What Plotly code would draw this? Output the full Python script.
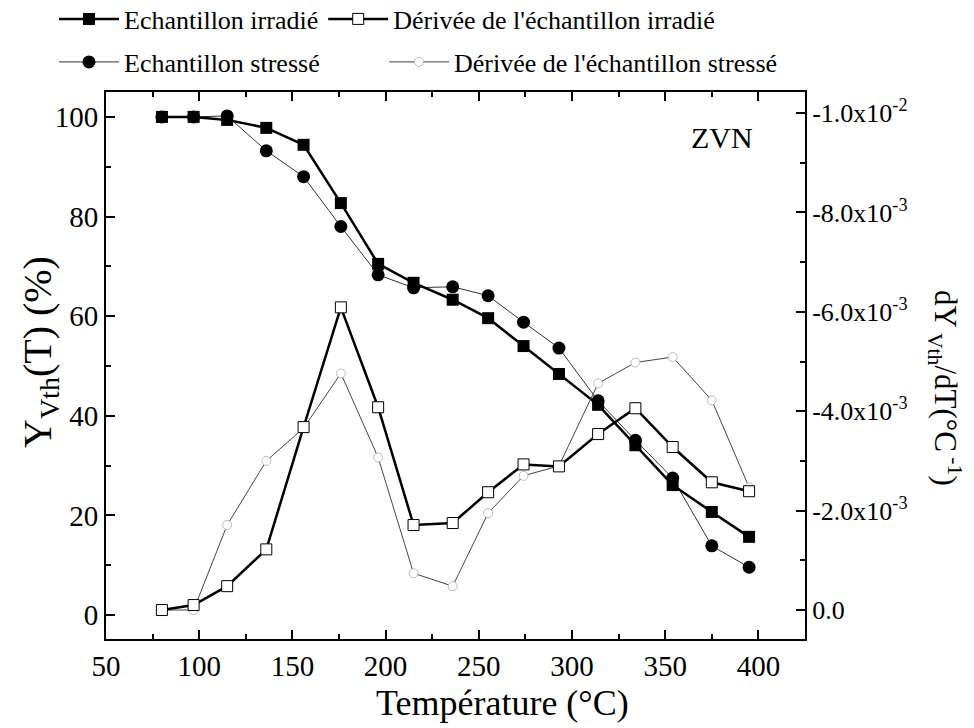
import plotly.graph_objects as go

# Temperatures (°C)
temp = [80, 97, 115, 136, 156, 176, 196, 215, 236, 255, 274, 293, 314, 334, 354, 375, 395]

# Y_Vth (%) — left axis
irradie = [100, 100, 99.4, 97.8, 94.4, 82.7, 70.5, 66.7, 63.3, 59.6, 54.0, 48.4, 42.2, 34.1, 26.1, 20.7, 15.7]
stresse = [100, 100, 100.2, 93.2, 88.0, 78.0, 68.3, 65.7, 65.9, 64.1, 58.8, 53.6, 43.0, 35.1, 27.5, 13.9, 9.6]

# dY_Vth/dT (°C^-1) — right axis
deriv_irradie = [0.0, -0.10e-3, -0.48e-3, -1.22e-3, -3.68e-3, -6.09e-3, -4.08e-3, -1.71e-3, -1.75e-3,
                 -2.37e-3, -2.93e-3, -2.89e-3, -3.54e-3, -4.06e-3, -3.28e-3, -2.57e-3, -2.39e-3]
deriv_stresse = [0.0, 0.0, -1.71e-3, -3.0e-3, -3.66e-3, -4.76e-3, -3.07e-3, -0.74e-3, -0.48e-3,
                 -1.95e-3, -2.7e-3, -2.9e-3, -4.56e-3, -4.98e-3, -5.09e-3, -4.22e-3, -2.47e-3]

x_ticks = [50, 100, 150, 200, 250, 300, 350, 400]
y_ticks = [0, 20, 40, 60, 80, 100]
y2_ticks = [0.0, -2e-3, -4e-3, -6e-3, -8e-3, -1e-2]
y2_ticktext = ["0.0", "-2.0x10<sup>-3</sup>", "-4.0x10<sup>-3</sup>", "-6.0x10<sup>-3</sup>",
               "-8.0x10<sup>-3</sup>", "-1.0x10<sup>-2</sup>"]

FONT = "Liberation Serif, Times New Roman, serif"

fig = go.Figure()

fig.add_trace(go.Scatter(
    x=temp, y=deriv_stresse, yaxis="y2", name="Dérivée de l'échantillon stressé",
    mode="lines+markers", legend="legend3",
    line=dict(color="#444444", width=1),
    marker=dict(symbol="circle", size=9, color="white", line=dict(color="#aaaaaa", width=0.8)),
))
fig.add_trace(go.Scatter(
    x=temp, y=deriv_irradie, yaxis="y2", name="Dérivée de l'échantillon irradié",
    mode="lines+markers", legend="legend", legendrank=2,
    line=dict(color="black", width=2.5),
    marker=dict(symbol="square", size=11, color="white", line=dict(color="black", width=1)),
))
fig.add_trace(go.Scatter(
    x=temp, y=stresse, name="Echantillon stressé",
    mode="lines+markers", legend="legend2",
    line=dict(color="#333333", width=1),
    marker=dict(symbol="circle", size=13, color="black"),
))
fig.add_trace(go.Scatter(
    x=temp, y=irradie, name="Echantillon irradié",
    mode="lines+markers", legend="legend", legendrank=1,
    line=dict(color="black", width=2.5),
    marker=dict(symbol="square", size=12, color="black"),
))

axis_common = dict(
    showgrid=False, zeroline=False, showline=True, linecolor="black", linewidth=2,
    ticks="inside", tickcolor="black", tickwidth=2, ticklen=9, automargin=False,
)

legend_common = dict(
    orientation="h", xref="container", yref="container", xanchor="left", yanchor="middle",
    font=dict(family=FONT, size=26, color="black"), bgcolor="rgba(0,0,0,0)",
    itemwidth=60, tracegroupgap=0,
)

fig.update_layout(
    width=974, height=728,
    margin=dict(l=106, r=169, t=92, b=89),
    paper_bgcolor="white", plot_bgcolor="white",
    font=dict(family=FONT, color="black"),
    showlegend=True,
    xaxis=dict(
        **axis_common, range=[50, 425], tickvals=x_ticks, mirror="ticks",
        tickfont=dict(family=FONT, size=29, color="black"),
        minor=dict(ticks="inside", dtick=25, tick0=0, ticklen=5, tickwidth=2, tickcolor="black"),
    ),
    yaxis=dict(
        **axis_common, range=[-4.8, 105], tickvals=y_ticks,
        tickfont=dict(family=FONT, size=29, color="black"),
        minor=dict(ticks="inside", dtick=10, tick0=0, ticklen=5, tickwidth=2, tickcolor="black"),
    ),
    yaxis2=dict(
        **axis_common,
        tickfont=dict(family=FONT, size=26, color="black"),
        overlaying="y", side="right", range=[0.000583, -0.010423],
        tickvals=y2_ticks, ticktext=y2_ticktext,
        minor=dict(ticks="inside", dtick=1e-3, tick0=0, ticklen=5, tickwidth=2, tickcolor="black"),
    ),
    legend=dict(**legend_common, x=54 / 974, y=1 - 19 / 728),
    legend2=dict(**legend_common, x=54 / 974, y=1 - 62 / 728),
    legend3=dict(**legend_common, x=384 / 974, y=1 - 62 / 728),
    annotations=[
        dict(text="Température (°C)", xref="paper", yref="paper",
             x=(502 - 106) / 699, y=(639 - 703) / 547,
             xanchor="center", yanchor="middle", showarrow=False,
             font=dict(family=FONT, size=36, color="black")),
        dict(text="Y<sub>Vth</sub>(T) (%)", xref="paper", yref="paper",
             x=(40 - 106) / 699, y=(639 - 352) / 547,
             xanchor="center", yanchor="middle", textangle=-90, showarrow=False,
             font=dict(family=FONT, size=40, color="black")),
        dict(text="dY<sub> Vth</sub>/dT(°C<sup> -1</sup>)", xref="paper", yref="paper",
             x=(945 - 106) / 699, y=(639 - 388) / 547,
             xanchor="center", yanchor="middle", textangle=90, showarrow=False,
             font=dict(family=FONT, size=31, color="black")),
        dict(text="ZVN", xref="paper", yref="paper",
             x=(722 - 106) / 699, y=(639 - 137) / 547,
             xanchor="center", yanchor="middle", showarrow=False,
             font=dict(family=FONT, size=30, color="black")),
    ],
)

fig.write_html(
    "out.html",
    config={"displayModeBar": False},
    post_script="document.body.style.margin='0';document.body.style.overflow='hidden';",
)
